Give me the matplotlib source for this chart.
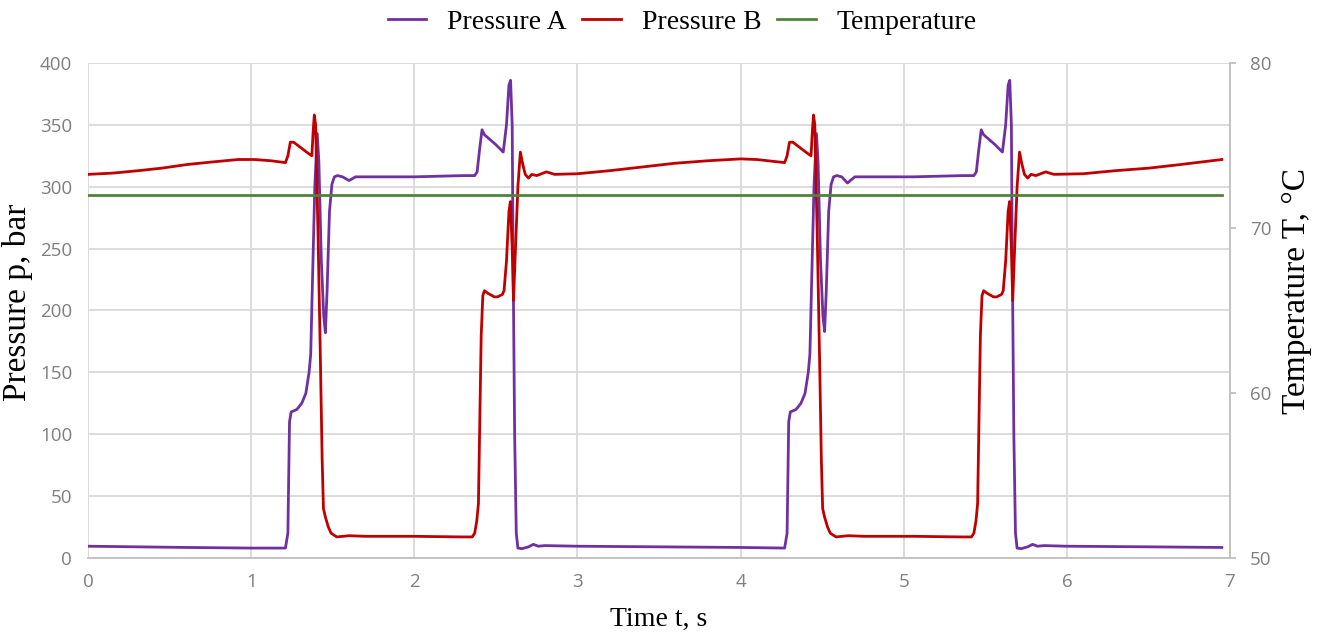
import matplotlib
matplotlib.use("Agg")
from matplotlib import pyplot as plt

# Pressure A (purple)
tA = [0.00, 0.30, 0.60, 1.00, 1.21, 1.225, 1.235, 1.245, 1.28, 1.31, 1.335, 1.355, 1.365,
      1.375, 1.39, 1.405, 1.415, 1.43, 1.445, 1.455, 1.465, 1.48, 1.495, 1.51, 1.53, 1.56,
      1.60, 1.64, 1.70, 2.00, 2.30, 2.37, 2.385, 2.40, 2.415, 2.43, 2.50, 2.545, 2.565,
      2.58, 2.59, 2.60, 2.605, 2.615, 2.625, 2.635, 2.66, 2.70, 2.73, 2.76, 2.80, 3.00,
      3.50, 4.00, 4.27, 4.285, 4.295, 4.305, 4.34, 4.37, 4.395, 4.415, 4.425, 4.435, 4.45,
      4.465, 4.475, 4.49, 4.505, 4.515, 4.525, 4.54, 4.555, 4.57, 4.59, 4.62, 4.655, 4.70,
      4.76, 5.06, 5.36, 5.43, 5.445, 5.46, 5.475, 5.49, 5.56, 5.605, 5.625, 5.64, 5.65,
      5.66, 5.665, 5.675, 5.685, 5.695, 5.72, 5.76, 5.79, 5.82, 5.86, 6.00, 6.50, 6.95]
pA = [9.5, 9, 8.5, 8, 8, 20, 110, 118, 120, 125, 133, 150, 165,
      220, 300, 343, 320, 240, 195, 182, 215, 280, 302, 308, 309, 308,
      305, 308, 308, 308, 309, 309, 312, 330, 346, 342, 334, 328, 350,
      382, 386, 350, 250, 100, 20, 8, 7.5, 9, 11, 9.5, 10, 9.5,
      9, 8.5, 8, 20, 110, 118, 120, 125, 133, 150, 165,
      220, 300, 343, 320, 240, 195, 183, 215, 280, 302, 308, 309, 308,
      303, 308, 308, 308, 309, 309, 312, 330, 346, 342, 334, 328, 350,
      382, 386, 350, 250, 100, 20, 8, 7.5, 9, 11, 9.5, 10, 9.5, 9, 8.5]

# Pressure B (red)
tB = [0.00, 0.15, 0.31, 0.45, 0.61, 0.76, 0.92, 1.02, 1.12, 1.21, 1.225, 1.24, 1.26, 1.30,
      1.35, 1.372, 1.38, 1.387, 1.395, 1.40, 1.41, 1.423, 1.435, 1.443, 1.455, 1.473, 1.49,
      1.525, 1.60, 1.70, 2.00, 2.30, 2.355, 2.37, 2.383, 2.393, 2.40, 2.41, 2.42, 2.43, 2.45,
      2.49, 2.51, 2.54, 2.55, 2.565, 2.58, 2.589, 2.60, 2.608, 2.62, 2.635, 2.65, 2.665,
      2.68, 2.70, 2.72, 2.75, 2.81, 2.86, 3.00, 3.20, 3.40, 3.60, 3.80, 4.00, 4.10, 4.20,
      4.27, 4.285, 4.30, 4.32, 4.36, 4.41, 4.432, 4.44, 4.447, 4.455, 4.46, 4.47, 4.483,
      4.495, 4.503, 4.515, 4.533, 4.55, 4.585, 4.66, 4.76, 5.06, 5.36, 5.415, 5.43, 5.443,
      5.453, 5.46, 5.47, 5.48, 5.49, 5.51, 5.55, 5.57, 5.60, 5.61, 5.625, 5.64, 5.649,
      5.66, 5.668, 5.68, 5.695, 5.71, 5.725, 5.74, 5.76, 5.78, 5.81, 5.87, 5.92, 6.10,
      6.30, 6.50, 6.70, 6.95]
pB = [310, 311, 313, 315, 318, 320, 322, 322, 321, 319.5, 325, 336, 336, 332,
      327, 325, 345, 358, 350, 320, 260, 170, 80, 40, 33, 25, 20,
      17, 18, 17.5, 17.5, 17, 17, 20, 30, 44, 100, 180, 212, 216, 214,
      211, 211, 213, 216, 240, 280, 288, 250, 208, 250, 300, 328, 318,
      310, 307, 310, 309, 312, 310, 310.5, 313, 316, 319, 321, 322.5, 322, 320.5,
      319.5, 325, 336, 336, 332, 327, 325, 345, 358, 350, 320, 260, 170,
      80, 40, 33, 25, 20, 17, 18, 17.5, 17.5, 17, 17, 20,
      30, 44, 100, 180, 212, 216, 214, 211, 211, 213, 216, 240, 280,
      288, 250, 208, 250, 300, 328, 318, 310, 307, 310, 309, 312, 310,
      310.5, 313, 315, 318, 322]

# Temperature (green), right axis
tT = [0.0, 6.95]
vT = [72, 72]

xticks = [0, 1, 2, 3, 4, 5, 6, 7]
yticks = [0, 50, 100, 150, 200, 250, 300, 350, 400]
y2ticks = [50, 60, 70, 80]

purple = '#7030a0'
red = '#c00000'
green = '#548235'
grid_c = '#d9d9d9'
tick_c = '#7f7f7f'
serif = 'Liberation Serif'
sans = 'Open Sans'

fig = plt.figure(figsize=(13.22, 6.35), dpi=100)
ax = fig.add_axes([0.0666, 0.1213, 0.8638, 0.7795])
ax2 = ax.twinx()

lA, = ax.plot(tA, pA, color=purple, lw=2.0, label='Pressure A', zorder=3)
lB, = ax.plot(tB, pB, color=red, lw=2.0, label='Pressure B', zorder=4)
lT, = ax2.plot(tT, vT, color=green, lw=2.0, label='Temperature', zorder=5)

ax.set_xlim(0, 7)
ax.set_ylim(0, 400)
ax2.set_ylim(50, 80)
ax.set_xticks(xticks)
ax.set_yticks(yticks)
ax2.set_yticks(y2ticks)

ax.grid(True, color=grid_c, lw=1.3)
ax.set_axisbelow(True)

for a in (ax, ax2):
    for s in a.spines.values():
        s.set_visible(False)
ax.spines['bottom'].set_visible(True)
ax.spines['bottom'].set_color('#bfbfbf')
ax.spines['bottom'].set_linewidth(1.3)
ax2.spines['right'].set_visible(True)
ax2.spines['right'].set_color('#bfbfbf')
ax2.spines['right'].set_linewidth(1.3)

ax.tick_params(axis='x', length=0, pad=11, labelcolor=tick_c, labelsize=13.5)
ax.tick_params(axis='y', length=0, pad=11.5, labelcolor=tick_c, labelsize=13.5)
ax2.tick_params(axis='y', length=4.5, width=1.3, color='#bfbfbf', pad=10,
                labelcolor=tick_c, labelsize=13.5)
for lbl in ax.get_xticklabels() + ax.get_yticklabels() + ax2.get_yticklabels():
    lbl.set_family(sans)

ax.set_xlabel('Time t, s', family=serif, fontsize=20, labelpad=11)
ax.set_ylabel('Pressure p, bar', family=serif, fontsize=24)
ax.yaxis.set_label_coords(-0.048, 0.517)
ax2.set_ylabel('Temperature T, °C', family=serif, fontsize=24)
ax2.yaxis.set_label_coords(1.0455, 0.54)

fig.legend(handles=[lA, lB, lT], loc='center', bbox_to_anchor=(0.516, 0.965), ncol=3,
           frameon=False, prop={'family': serif, 'size': 20}, handlelength=1.4,
           handletextpad=0.75, columnspacing=0.55)

fig.savefig('out.png', dpi=100)
